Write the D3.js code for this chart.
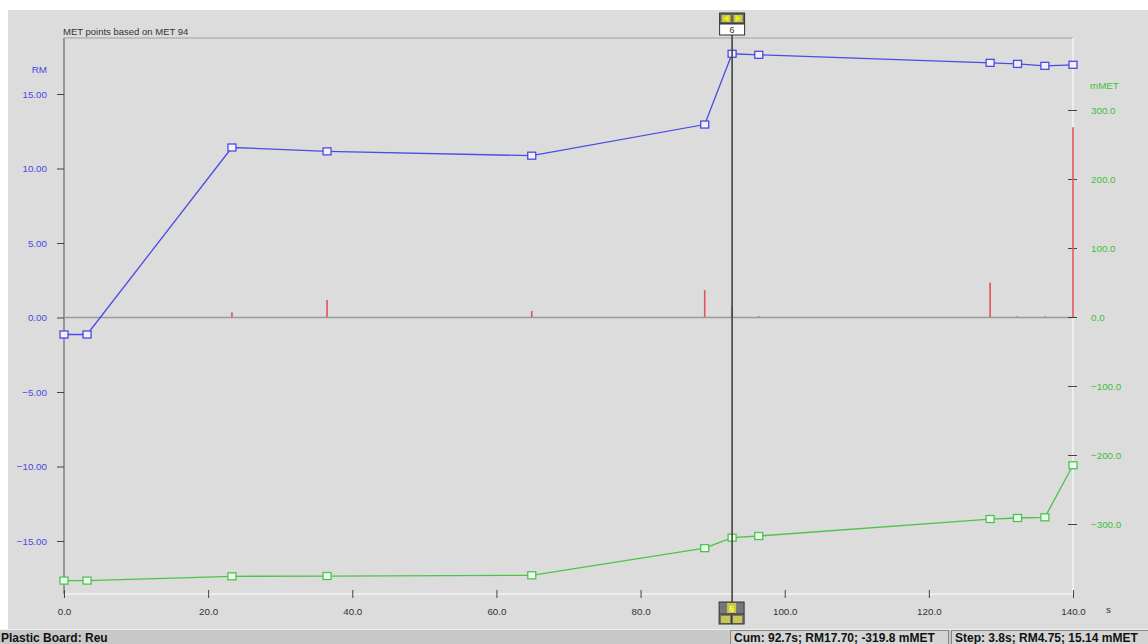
<!DOCTYPE html>
<html><head><meta charset="utf-8">
<script src="https://cdn.jsdelivr.net/npm/d3@7"></script>
<style>
body{margin:0;background:#fff;overflow:hidden;}
svg{display:block;font-family:"Liberation Sans",Arial,sans-serif;}
</style>
</head><body><svg id="c" width="1148" height="644"></svg>
<script>
// ---- data ----
const times = [0, 3.2, 23.3, 36.5, 64.9, 88.9, 92.7, 96.4, 128.5, 132.3, 136.1, 140];
const rmValues = [-1.14, -1.14, 11.41, 11.15, 10.86, 12.95, 17.70, 17.63, 17.09, 17.02, 16.89, 16.96];
const metValues = [-382, -382, -375.8, -375.4, -374.4, -335.0, -319.8, -317.4, -292.8, -291.3, -290.3, -214.9];
const barValues = [0, 0, 7, 24.6, 8.7, 39, 15.14, 1.2, 50, 1, 1, 275];
const leftTicks = [-15, -10, -5, 0, 5, 10, 15];
const rightTicks = [-300, -200, -100, 0, 100, 200, 300];
const xTicks = [0, 20, 40, 60, 80, 100, 120, 140];
const cursorTime = 92.7;
const cursorIndex = "6";
const title = "MET points based on MET 94";
const statusLeft = "Plastic Board: Reu";
const statusCum = "Cum: 92.7s; RM17.70; -319.8 mMET";
const statusStep = "Step: 3.8s; RM4.75; 15.14 mMET";

// ---- drawing ----
const svg = d3.select("#c");
const W = 1148, H = 644;
const x = d3.scaleLinear().domain([0, 140]).range([64, 1073]);
const yL = d3.scaleLinear().domain([-15, 15]).range([541, 94]);
const yR = d3.scaleLinear().domain([-300, 300]).range([524, 110]);
const plotTop = 38, plotBottom = 594;
const FF = "Liberation Sans, Arial, sans-serif";

// panel
svg.append("rect").attr("x", 8).attr("y", 10).attr("width", W - 8).attr("height", 619).attr("fill", "#dcdcdc");

// frame lines
svg.append("line").attr("x1", 64).attr("x2", 1073).attr("y1", plotTop).attr("y2", plotTop).attr("stroke", "#a0a0a0");
svg.append("line").attr("x1", 64).attr("x2", 1073).attr("y1", plotBottom).attr("y2", plotBottom).attr("stroke", "#f4f4f4").attr("stroke-width", 1.5);
svg.append("line").attr("x1", 1073).attr("x2", 1073).attr("y1", plotTop).attr("y2", plotBottom).attr("stroke", "#f4f4f4").attr("stroke-width", 1.5);
svg.append("line").attr("x1", 64).attr("x2", 64).attr("y1", plotTop).attr("y2", plotBottom).attr("stroke", "#808080").attr("stroke-width", 1.5);
// zero line
svg.append("line").attr("x1", 64).attr("x2", 1073).attr("y1", yL(0)).attr("y2", yL(0)).attr("stroke", "#9a9a9a").attr("stroke-width", 1.5);

// title
svg.append("text").attr("x", 63).attr("y", 35).attr("font-size", 9.5).attr("fill", "#333").text(title);

// left axis
const gL = svg.append("g").attr("transform", "translate(64,0)")
  .call(d3.axisLeft(yL).tickValues(leftTicks).tickFormat(d3.format(".2f")).tickSize(7).tickPadding(10));
gL.select(".domain").remove();
gL.selectAll(".tick line").attr("stroke", "#444");
gL.selectAll(".tick text").attr("fill", "#4a4ae0").attr("font-size", 9.8).attr("font-family", FF);
svg.append("text").attr("x", 47).attr("y", 73).attr("text-anchor", "end").attr("font-size", 9.8).attr("fill", "#4a4ae0").text("RM");

// right axis
const gR = svg.append("g").attr("transform", "translate(1073,0)")
  .call(d3.axisRight(yR).tickValues(rightTicks).tickFormat(d3.format(".1f")).tickSize(4).tickPadding(14));
gR.select(".domain").remove();
gR.selectAll(".tick line").attr("stroke", "#444").attr("x1", -5);
gR.selectAll(".tick text").attr("fill", "#3cbf3c").attr("font-size", 9.8).attr("font-family", FF);
svg.append("text").attr("x", 1090).attr("y", 89).attr("font-size", 9.8).attr("fill", "#3cbf3c").text("mMET");

// x axis
const gX = svg.append("g").attr("transform", `translate(0,${plotBottom})`)
  .call(d3.axisBottom(x).tickValues(xTicks).tickFormat(d3.format(".1f")).tickSize(4).tickPadding(10));
gX.select(".domain").remove();
gX.selectAll(".tick line").attr("stroke", "#444").attr("y1", -4);
gX.selectAll(".tick text").attr("fill", "#333").attr("font-size", 9.8).attr("font-family", FF);
svg.append("text").attr("x", 1106).attr("y", 613).attr("font-size", 9.8).attr("fill", "#333").text("s");

// red bars
const rows = times.map((t, i) => ({t, rm: rmValues[i], met: metValues[i], bar: barValues[i]}));
svg.append("g").selectAll("line").data(rows.filter(d => d.bar > 0)).join("line")
  .attr("x1", d => x(d.t)).attr("x2", d => x(d.t))
  .attr("y1", yR(0)).attr("y2", d => yR(d.bar))
  .attr("stroke", "#e05555").attr("stroke-width", 1.6);

// blue line
const blue = "#4b4be6", green = "#4cc44c";
svg.append("path").datum(rows).attr("fill", "none").attr("stroke", blue).attr("stroke-width", 1.3)
  .attr("d", d3.line().x(d => x(d.t)).y(d => yL(d.rm)));
svg.append("g").selectAll("rect").data(rows).join("rect")
  .attr("x", d => x(d.t) - 4).attr("y", d => yL(d.rm) - 3.5).attr("width", 8).attr("height", 7)
  .attr("fill", "#f0f0ff").attr("stroke", blue).attr("stroke-width", 1.3);

// green line
svg.append("path").datum(rows).attr("fill", "none").attr("stroke", green).attr("stroke-width", 1.3)
  .attr("d", d3.line().x(d => x(d.t)).y(d => yR(d.met)));
svg.append("g").selectAll("rect").data(rows).join("rect")
  .attr("x", d => x(d.t) - 4).attr("y", d => yR(d.met) - 3.5).attr("width", 8).attr("height", 7)
  .attr("fill", "#f0fff0").attr("stroke", green).attr("stroke-width", 1.3);

// cursor
const cx = x(cursorTime);
svg.append("line").attr("x1", cx).attr("x2", cx).attr("y1", 34).attr("y2", 602).attr("stroke", "#444").attr("stroke-width", 1.6);
// top box
const tb = svg.append("g").attr("transform", `translate(${cx - 12.5},13)`);
tb.append("rect").attr("width", 25).attr("height", 11).attr("fill", "#666").attr("stroke", "#333");
tb.append("rect").attr("x", 2).attr("y", 2).attr("width", 9).attr("height", 7).attr("fill", "#c8c850");
tb.append("rect").attr("x", 14).attr("y", 2).attr("width", 9).attr("height", 7).attr("fill", "#c8c850");
tb.append("path").attr("d", "M9,2 L4,5.5 L9,9 Z").attr("fill", "#f0f000");
tb.append("path").attr("d", "M16,2 L21,5.5 L16,9 Z").attr("fill", "#f0f000");
tb.append("rect").attr("y", 11).attr("width", 25).attr("height", 11).attr("fill", "#fff").attr("stroke", "#333");
tb.append("text").attr("x", 12.5).attr("y", 20).attr("text-anchor", "middle").attr("font-size", 9).attr("fill", "#333").text(cursorIndex);
// bottom box
const bb = svg.append("g").attr("transform", `translate(${cx - 13},602)`);
bb.append("rect").attr("width", 25).attr("height", 22).attr("fill", "#777").attr("stroke", "#333");
bb.append("rect").attr("x", 8).attr("y", 1).attr("width", 9).attr("height", 10).attr("fill", "#c8c850");
bb.append("text").attr("x", 12.5).attr("y", 10).attr("text-anchor", "middle").attr("font-size", 9).attr("font-weight", "bold").attr("fill", "#ffff40").text("5");
bb.append("line").attr("x1", 0).attr("x2", 25).attr("y1", 12).attr("y2", 12).attr("stroke", "#333");
bb.append("rect").attr("x", 2).attr("y", 14).attr("width", 9).attr("height", 7).attr("fill", "#c8c850");
bb.append("rect").attr("x", 14).attr("y", 14).attr("width", 9).attr("height", 7).attr("fill", "#c8c850");
bb.append("line").attr("x1", 12.5).attr("x2", 12.5).attr("y1", 12).attr("y2", 22).attr("stroke", "#333");

// status bar
svg.append("rect").attr("x", 0).attr("y", 629).attr("width", W).attr("height", 15).attr("fill", "#c8c8c8");
svg.append("line").attr("x1", 0).attr("x2", W).attr("y1", 629.5).attr("y2", 629.5).attr("stroke", "#f0f0f0");
svg.append("text").attr("x", 1).attr("y", 642).attr("font-size", 12).attr("font-weight", "bold").attr("fill", "#111").text(statusLeft);
const p1 = svg.append("g");
p1.append("rect").attr("x", 730.5).attr("y", 630.5).attr("width", 218).attr("height", 14).attr("fill", "#d4d4d4").attr("stroke", "#888");
p1.append("text").attr("x", 734).attr("y", 642).attr("font-size", 12).attr("font-weight", "bold").attr("fill", "#111").text(statusCum);
p1.append("rect").attr("x", 951.5).attr("y", 630.5).attr("width", 200).attr("height", 14).attr("fill", "#d4d4d4").attr("stroke", "#888");
p1.append("text").attr("x", 955).attr("y", 642).attr("font-size", 12).attr("font-weight", "bold").attr("fill", "#111").text(statusStep);
</script>
</body></html>
